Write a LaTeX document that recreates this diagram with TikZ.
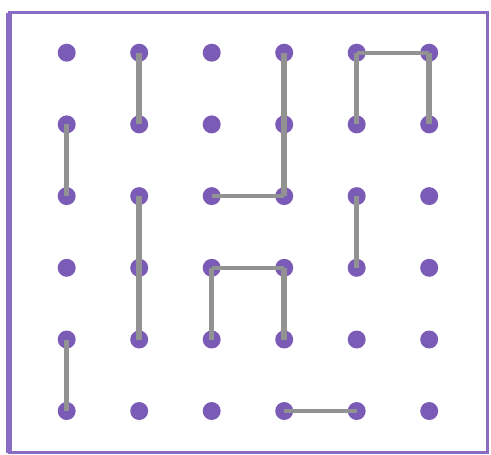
\documentclass[tikz,border=0pt]{standalone}
\definecolor{dotpurple}{HTML}{7A5BB6}
\definecolor{framepurple}{HTML}{8A6CC4}
\definecolor{wiregray}{HTML}{929292}
\tikzset{
  dot/.style={circle, fill=dotpurple, inner sep=0pt, minimum size=0.36cm},
  vlink/.style={draw=wiregray, line width=3.1pt},
  hlink/.style={draw=wiregray, line width=2.2pt}
}
\begin{document}
\begin{tikzpicture}[x=0.02cm,y=-0.02cm]
\useasboundingbox (0,0) rectangle (491,454);
% frame
\draw[framepurple, line width=1.7pt] (9,12.5) rectangle (487.5,452.5);
\draw[framepurple, line width=3.4pt] (9,12.5) -- (9,452.5);
% dots
\node[dot] (v11) at (66.7,52.7) {};
\node[dot] (v12) at (139.2,52.7) {};
\node[dot] (v13) at (211.7,52.7) {};
\node[dot] (v14) at (284.2,52.7) {};
\node[dot] (v15) at (356.7,52.7) {};
\node[dot] (v16) at (429.2,52.7) {};
\node[dot] (v21) at (66.7,124.4) {};
\node[dot] (v22) at (139.2,124.4) {};
\node[dot] (v23) at (211.7,124.4) {};
\node[dot] (v24) at (284.2,124.4) {};
\node[dot] (v25) at (356.7,124.4) {};
\node[dot] (v26) at (429.2,124.4) {};
\node[dot] (v31) at (66.7,196.1) {};
\node[dot] (v32) at (139.2,196.1) {};
\node[dot] (v33) at (211.7,196.1) {};
\node[dot] (v34) at (284.2,196.1) {};
\node[dot] (v35) at (356.7,196.1) {};
\node[dot] (v36) at (429.2,196.1) {};
\node[dot] (v41) at (66.7,267.8) {};
\node[dot] (v42) at (139.2,267.8) {};
\node[dot] (v43) at (211.7,267.8) {};
\node[dot] (v44) at (284.2,267.8) {};
\node[dot] (v45) at (356.7,267.8) {};
\node[dot] (v46) at (429.2,267.8) {};
\node[dot] (v51) at (66.7,339.5) {};
\node[dot] (v52) at (139.2,339.5) {};
\node[dot] (v53) at (211.7,339.5) {};
\node[dot] (v54) at (284.2,339.5) {};
\node[dot] (v55) at (356.7,339.5) {};
\node[dot] (v56) at (429.2,339.5) {};
\node[dot] (v61) at (66.7,411) {};
\node[dot] (v62) at (139.2,411) {};
\node[dot] (v63) at (211.7,411) {};
\node[dot] (v64) at (284.2,411) {};
\node[dot] (v65) at (356.7,411) {};
\node[dot] (v66) at (429.2,411) {};
% links
\draw[vlink] (v12.center) -- (v22.center);
\draw[vlink] (v21.center) -- (v31.center);
\draw[vlink] (v14.center) -- (v24.center) -- (v34.center);
\draw[hlink] (v33.center) -- (v34.center);
\draw[hlink] (v15.center) -- (v16.center);
\draw[vlink] (v15.center) -- (v25.center);
\draw[vlink] (v16.center) -- (v26.center);
\draw[vlink] (v32.center) -- (v42.center) -- (v52.center);
\draw[vlink] (v35.center) -- (v45.center);
\draw[hlink] (v43.center) -- (v44.center);
\draw[vlink] (v43.center) -- (v53.center);
\draw[vlink] (v44.center) -- (v54.center);
\draw[vlink] (v51.center) -- (v61.center);
\draw[hlink] (v64.center) -- (v65.center);
\end{tikzpicture}
\end{document}
